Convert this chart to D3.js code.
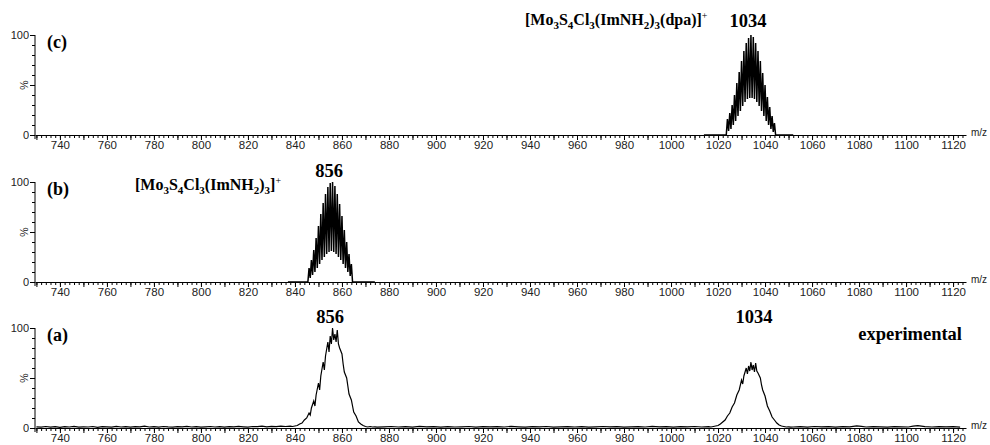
<!DOCTYPE html>
<html>
<head>
<meta charset="utf-8">
<script src="https://cdn.jsdelivr.net/npm/d3@7"></script>
<style>
  body { margin: 0; background: #fff; }
  svg { display: block; }
  .sans { font-family: "Liberation Sans", Arial, Helvetica, sans-serif; }
  .serif { font-family: "Liberation Serif", "Times New Roman", Times, serif; font-weight: bold; }
</style>
</head>
<body>
<div id="chart"></div>
<script>
// m/z axis
var xDomain = [729.4, 1125.5];
var xLabelTicks = [740, 760, 780, 800, 820, 840, 860, 880, 900, 920, 940, 960, 980, 1000, 1020, 1040, 1060, 1080, 1100, 1120];

// (c) simulated [Mo3S4Cl3(ImNH2)3(dpa)]+  isotope pattern
var cMz     = [1024,1025,1026,1027,1028,1029,1030,1031,1032,1033,1034,1035,1036,1037,1038,1039,1040,1041,1042,1043,1044];
var cPeak   = [16,22,30,40,52,63,74,84,92,97,100,98,92,84,74,62,50,38,28,19,12];
var cValley = [4,6,10,14,19,24,29,33,36,37,37,36,33,29,24,19,14,10,6,3,0];
var cBase   = [1014, 1052];

// (b) simulated [Mo3S4Cl3(ImNH2)3]+ isotope pattern
var bMz     = [846,847,848,849,850,851,852,853,854,855,856,857,858,859,860,861,862,863,864];
var bPeak   = [14,22,32,44,56,68,79,88,95,99,100,96,88,78,66,52,40,28,18];
var bValley = [4,7,10,14,18,22,25,28,30,31,30,28,25,22,18,14,10,6,0];
var bBase   = [837, 874];

// (a) experimental spectrum
var expMz = [730,732,734,736,738,740,742,744,746,748,750,752,754,756,758,760,762,764,766,768,770,772,774,776,778,780,782,784,786,788,790,792,794,796,798,800,802,804,806,808,810,812,814,816,818,820,822,824,826,828,830,832,834,836,838,
  839,840,841,842,843,844,845,846,846.5,847,848,848.5,849,850,850.5,851,852,852.5,853,854,854.5,855,855.5,856,856.5,857,857.5,858,858.5,859,860,860.5,861,862,862.5,863,864,864.5,865,866,867,868,869,870,871,872,873,874,875,
  878,881,884,887,890,893,896,899,902,905,908,911,914,917,920,923,926,929,932,935,938,941,944,947,950,953,956,959,962,965,968,971,974,977,980,983,986,989,992,995,998,1001,1004,1007,1010,1013,1016,
  1017,1018,1019,1020,1021,1022,1023,1024,1025,1026,1027,1028,1029,1030,1030.5,1031,1032,1032.5,1033,1033.5,1034,1034.5,1035,1035.5,1036,1036.5,1037,1038,1038.5,1039,1040,1041,1042,1043,1044,1045,1046,1047,1048,1049,1050,1051,1052,
  1055,1058,1061,1064,1067,1070,1073,1076,1079,1081,1083,1086,1089,1092,1095,1098,1101,1103,1105,1108,1111,1114,1117,1120,1123];
var expInt = [1.2,0.8,1.5,0.9,1.3,0.7,1.4,1.0,1.6,0.8,1.2,1.0,1.5,0.7,1.3,1.1,0.8,1.6,1.0,1.3,0.9,1.4,1.1,1.8,1.0,1.3,0.8,1.5,1.1,0.9,1.4,1.2,1.7,1.0,1.3,0.9,1.2,1.5,1.0,1.3,0.8,1.4,1.1,1.6,1.2,0.9,1.5,1.3,1.8,1.1,1.6,1.3,1.9,1.5,1.8,
  1.5,2,2.5,4,5,8,10,15,13,20,27,22,33,45,38,52,66,58,72,86,76,92,84,100,88,94,86,98,84,80,74,64,56,50,42,34,28,22,16,12,6,4,2.5,1.5,1.0,1.5,1.0,1.2,0.8,
  1.2,1.5,1.0,1.3,0.9,1.6,1.1,1.3,0.8,1.4,1.0,1.2,1.5,0.9,1.3,1.1,1.4,1.0,1.6,1.2,0.9,1.3,1.1,1.5,0.8,1.2,1.4,1.0,1.3,0.9,1.2,1.5,1.1,1.3,0.8,1.2,1.4,1.0,1.6,1.1,1.3,0.9,1.4,1.2,1.5,1.0,1.3,
  1.0,1.5,2,2.5,4,6,8,12,15,21,25,33,38,48,44,52,60,54,62,57,66,58,63,56,65,57,55,50,43,38,32,22,17,11,8,5,3,2,1.5,1.0,1.2,0.8,1.0,
  1.3,0.9,1.5,1.1,1.3,0.8,1.4,1.2,2.2,1.6,1.0,1.3,1.1,0.9,1.4,1.2,1.0,1.8,2.4,1.3,1.0,1.4,1.1,1.3,0.9];

var width = 990, height = 445;
var panelTops = [35, 182, 328];
var panelH = 100;

var svg = d3.select("#chart").append("svg")
    .attr("width", width)
    .attr("height", height);

var x = d3.scaleLinear().domain(xDomain).range([35, 966]);

function combPoints(mz, peak, valley, base) {
  var pts = [[base[0], 0], [mz[0] - 0.5, 0]];
  mz.forEach(function(m, i) {
    pts.push([m, peak[i]]);
    pts.push([m + 0.5, valley[i]]);
  });
  pts.push([base[1], 0]);
  return pts;
}

function styleSans(a, size) {
  a.selectAll("text")
      .attr("class", "sans")
      .attr("font-family", null)
      .style("font-size", size + "px")
      .attr("fill", "#222");
}

function drawPanel(top, points, strokeW) {
  var y = d3.scaleLinear().domain([0, 100]).range([top + panelH, top]);
  var g = svg.append("g");

  var minor = d3.range(730, 1125, 2);
  g.append("g")
      .attr("transform", "translate(0," + (top + panelH) + ")")
      .call(d3.axisBottom(x).tickValues(minor).tickSize(3).tickSizeOuter(0).tickFormat(""))
      .call(function(a) { a.selectAll("line").attr("stroke", "#000"); a.select(".domain").attr("stroke", "#000"); });
  g.append("g")
      .attr("transform", "translate(0," + (top + panelH) + ")")
      .call(d3.axisBottom(x).tickValues(d3.range(730, 1125, 10)).tickSize(5).tickSizeOuter(0).tickFormat(""))
      .call(function(a) { a.select(".domain").remove(); a.selectAll("line").attr("stroke", "#000"); });
  g.append("g")
      .attr("transform", "translate(0," + (top + panelH) + ")")
      .call(d3.axisBottom(x).tickValues(xLabelTicks).tickSize(0).tickPadding(6).tickFormat(d3.format("d")))
      .call(function(a) { a.select(".domain").remove(); styleSans(a, 11.5); });

  g.append("text")
      .attr("class", "sans")
      .attr("x", 971).attr("y", top + panelH + 1)
      .style("font-size", "10px").attr("fill", "#222")
      .text("m/z");

  g.append("g")
      .attr("transform", "translate(35,0)")
      .call(d3.axisLeft(y).tickValues(d3.range(0, 101, 10)).tickSize(3).tickSizeOuter(0).tickFormat(""))
      .call(function(a) { a.selectAll("line").attr("stroke", "#000"); a.select(".domain").attr("stroke", "#000").attr("d", "M0," + (top + panelH + 4) + "V" + top); });
  g.append("g")
      .attr("transform", "translate(35,0)")
      .call(d3.axisLeft(y).tickValues([0, 50, 100]).tickSize(5).tickPadding(1).tickFormat(function(d) { return d === 50 ? "" : d; }))
      .call(function(a) {
        a.select(".domain").remove();
        a.selectAll("line").attr("stroke", "#000");
        styleSans(a, 11);
      });
  g.append("text")
      .attr("class", "sans")
      .attr("transform", "translate(28," + y(50) + ") rotate(-90)")
      .attr("text-anchor", "middle")
      .style("font-size", "10.5px").attr("fill", "#222")
      .text("%");

  var line = d3.line()
      .x(function(d) { return x(d[0]); })
      .y(function(d) { return y(d[1]); });
  g.append("path")
      .datum(points)
      .attr("fill", "none")
      .attr("stroke", "#000")
      .attr("stroke-width", strokeW)
      .attr("stroke-linejoin", "miter")
      .attr("d", line);
  return y;
}

drawPanel(panelTops[0], combPoints(cMz, cPeak, cValley, cBase), 1.5);
drawPanel(panelTops[1], combPoints(bMz, bPeak, bValley, bBase), 1.5);
drawPanel(panelTops[2], expMz.map(function(m, i) { return [m, expInt[i]]; }), 1.2);

function label(xp, yp, size, txt, anchor) {
  svg.append("text")
      .attr("class", "serif")
      .attr("x", xp).attr("y", yp)
      .attr("text-anchor", anchor || "start")
      .style("font-size", size + "px")
      .text(txt);
}

// formula with subscripts / superscript
function formula(xp, yp, parts) {
  var base = 16;
  var t = svg.append("text")
      .attr("class", "serif")
      .attr("x", xp).attr("y", yp)
      .style("font-size", base + "px");
  var shift = 0;
  parts.forEach(function(p) {
    var dy = 0, size = base, weight = "bold";
    if (p[1] === "sub") { dy = 4 - shift; shift = 4; size = 11; }
    else if (p[1] === "sup") { dy = -6 - shift; shift = -6; size = 10; weight = "normal"; }
    else { dy = -shift; shift = 0; }
    t.append("tspan").attr("dy", dy).style("font-size", size + "px").style("font-weight", weight).text(p[0]);
  });
}

label(47, 48, 18, "(c)");
label(47, 195, 18, "(b)");
label(47, 341, 18, "(a)");

formula(525, 25, [["[Mo"], ["3", "sub"], ["S"], ["4", "sub"], ["Cl"], ["3", "sub"], ["(ImNH"], ["2", "sub"], [")"], ["3", "sub"], ["(dpa)]"], ["+", "sup"]]);
label(748, 27, 18.5, "1034", "middle");

formula(135, 190, [["[Mo"], ["3", "sub"], ["S"], ["4", "sub"], ["Cl"], ["3", "sub"], ["(ImNH"], ["2", "sub"], [")"], ["3", "sub"], ["]"], ["+", "sup"]]);
label(329, 177, 18.5, "856", "middle");

label(330, 323, 18.5, "856", "middle");
label(754, 323, 18.5, "1034", "middle");
label(962, 340, 18.5, "experimental", "end");
</script>
</body>
</html>
